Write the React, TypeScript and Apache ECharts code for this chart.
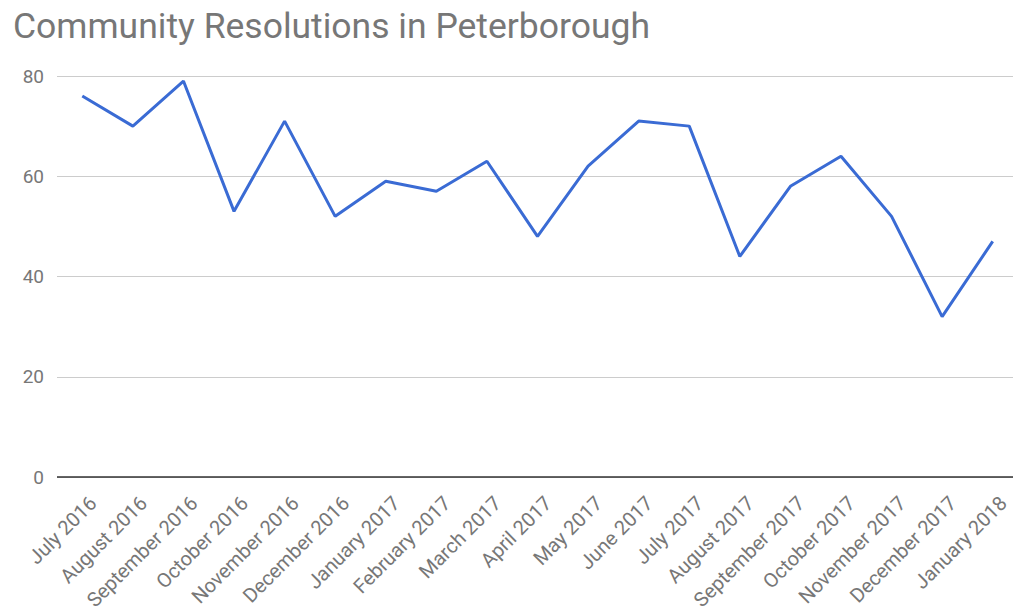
import React, { useEffect, useRef } from "react";
import * as echarts from "echarts";

const titleText = "Community Resolutions in Peterborough";
const categories = [
  "July 2016", "August 2016", "September 2016", "October 2016", "November 2016",
  "December 2016", "January 2017", "February 2017", "March 2017", "April 2017",
  "May 2017", "June 2017", "July 2017", "August 2017", "September 2017",
  "October 2017", "November 2017", "December 2017", "January 2018",
];
const values = [76, 70, 79, 53, 71, 52, 59, 57, 63, 48, 62, 71, 70, 44, 58, 64, 52, 32, 47];
const yTicks = [0, 20, 40, 60, 80];

export default function App() {
  const ref = useRef<HTMLDivElement>(null);
  useEffect(() => {
    if (!ref.current) return;
    const chart = echarts.init(ref.current, undefined, { renderer: "svg" });
    chart.setOption({
      animation: false,
      backgroundColor: "#ffffff",
      title: {
        text: titleText,
        left: 8,
        top: 3,
        textStyle: { fontFamily: "Roboto", fontWeight: "normal", fontSize: 35.5, color: "#777777" },
      },
      grid: { left: 57, top: 76, width: 961, bottom: 133, containLabel: false, outerBoundsMode: "none" },
      xAxis: {
        type: "category",
        data: categories,
        boundaryGap: true,
        axisLine: { show: false },
        axisTick: { show: false },
        axisLabel: {
          rotate: 45,
          interval: 0,
          margin: 12,
          align: "right",
          verticalAlign: "top",
          lineHeight: 30,
          fontFamily: "Roboto",
          fontSize: 20,
          color: "#777777",
        },
      },
      yAxis: {
        type: "value",
        min: yTicks[0],
        max: yTicks[yTicks.length - 1],
        interval: 20,
        axisLine: { show: false },
        axisTick: { show: false },
        axisLabel: { fontFamily: "Roboto", fontSize: 19, color: "#777777", margin: 13 },
        splitLine: { lineStyle: { color: "#cccccc", width: 1 } },
      },
      series: [
        {
          type: "line",
          data: values,
          symbol: "none",
          lineStyle: { color: "#3a6bd4", width: 3 },
          markLine: {
            silent: true,
            symbol: "none",
            label: { show: false },
            lineStyle: { color: "#333333", width: 1.5, type: "solid" },
            data: [{ yAxis: 0 }],
          },
        },
      ],
    });
    return () => chart.dispose();
  }, []);
  return (
    <div
      ref={ref}
      style={{ position: "fixed", left: 0, top: 0, width: 1013, height: 610 }}
    />
  );
}
